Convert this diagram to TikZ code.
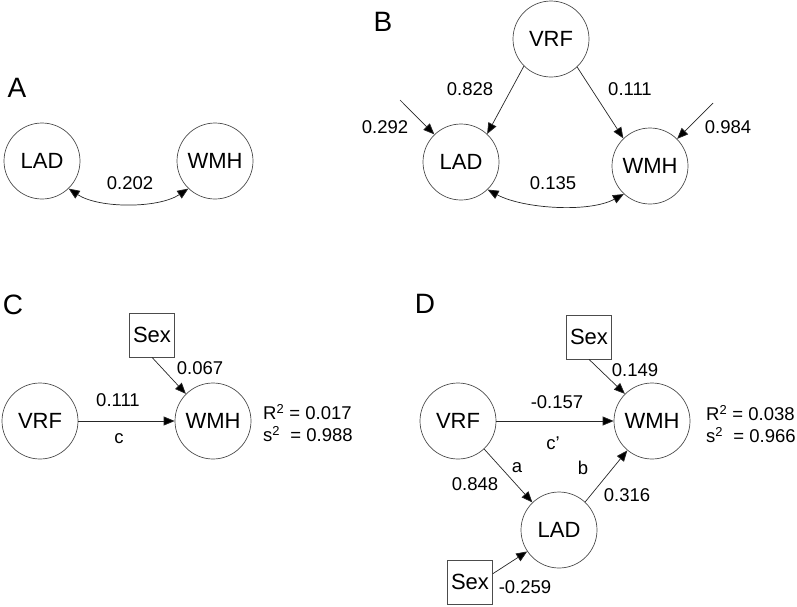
\documentclass[tikz,border=0pt]{standalone}
\usepackage{fontspec}
\setmainfont{Liberation Sans}
\usetikzlibrary{arrows.meta}
\begin{document}
\begin{tikzpicture}[x=1pt,y=-1pt,
  var/.style={circle,draw=black!70,line width=0.7pt,minimum size=76pt,inner sep=0pt,font=\fontsize{22}{24}\selectfont},
  obs/.style={rectangle,draw=black!70,line width=0.7pt,minimum width=45pt,minimum height=44pt,inner sep=0pt,font=\fontsize{22}{24}\selectfont},
  lbl/.style={font=\fontsize{18.5}{20}\selectfont,inner sep=0pt},
  panel/.style={font=\fontsize{28}{30}\selectfont,inner sep=0pt},
  arr/.style={draw=black!85,line width=0.7pt,-{Triangle[length=11pt,width=9pt,fill=black]}},
  darr/.style={draw=black!85,line width=0.7pt,{Triangle[length=11pt,width=9pt,fill=black]}-{Triangle[length=11pt,width=9pt,fill=black]}},
]
\useasboundingbox (0,0) rectangle (797,606);

% ---------- Panel A ----------
\node[panel] (pA) at (17,88) {A};
\node[var] (LADa) at (42,161) {LAD};
\node[var] (WMHa) at (215,161) {WMH};
\draw[darr] (LADa.-46) .. controls +(30,20) and +(-30,20) .. (WMHa.-134);
\node[lbl] (lA) at (130,183) {0.202};

% ---------- Panel B ----------
\node[panel] (pB) at (383,22) {B};
\node[var] (VRFb) at (551,39) {VRF};
\node[var] (LADb) at (461,162) {LAD};
\node[var] (WMHb) at (650,166) {WMH};
\coordinate (eL) at (400,100);
\coordinate (eW) at (713,103);
\draw[arr] (VRFb.-135) -- (LADb.47);
\draw[arr] (VRFb.-47) -- (WMHb.134);
\draw[arr] (eL) -- (LADb.134);
\draw[arr] (eW) -- (WMHb.45);
\draw[darr] (LADb.-46) .. controls +(35,19) and +(-35,19) .. (WMHb.-133);
\node[lbl] (l828) at (470,89) {0.828};
\node[lbl] (l111b) at (630,89) {0.111};
\node[lbl] (l292) at (385,127) {0.292};
\node[lbl] (l984) at (728,127) {0.984};
\node[lbl] (l135) at (553,183) {0.135};

% ---------- Panel C ----------
\node[panel] (pC) at (13,305) {C};
\node[obs] (SexC) at (152,335) {Sex};
\node[var] (VRFc) at (40,421) {VRF};
\node[var] (WMHc) at (213,421) {WMH};
\draw[arr] (VRFc.east) -- (WMHc.west);
\draw[arr] (SexC.south) -- (WMHc.135);
\node[lbl] (l111c) at (118,400) {0.111};
\node[lbl] (lc) at (119,439) {c};
\node[lbl] (l067) at (200,368) {0.067};
\node[lbl,anchor=west] (R2c) at (263,412) {R\textsuperscript{2} = 0.017};
\node[lbl,anchor=west] (s2c) at (263,434) {s\textsuperscript{2}\ \ = 0.988};

% ---------- Panel D ----------
\node[panel] (pD) at (425,304) {D};
\node[obs] (SexD1) at (589,337) {Sex};
\node[var] (VRFd) at (458,421) {VRF};
\node[var] (WMHd) at (652,421) {WMH};
\node[var] (LADd) at (559,530) {LAD};
\node[obs] (SexD2) at (470,582) {Sex};
\draw[arr] (SexD1.south) -- (WMHd.135);
\draw[arr] (VRFd.east) -- (WMHd.west);
\draw[arr] (VRFd.-47) -- (LADd.134);
\draw[arr] (LADd.47) -- (WMHd.-130);
\draw[arr] (SexD2.20) -- (LADd.-146);
\node[lbl] (l149) at (635,370) {0.149};
\node[lbl] (l157) at (557,402) {-0.157};
\node[lbl] (lcp) at (553,443) {c’};
\node[lbl] (la) at (517,468) {a};
\node[lbl] (lb) at (583,468) {b};
\node[lbl] (l848) at (475,484) {0.848};
\node[lbl] (l316) at (627,495) {0.316};
\node[lbl] (l259) at (525,587) {-0.259};
\node[lbl,anchor=west] (R2d) at (706,413) {R\textsuperscript{2} = 0.038};
\node[lbl,anchor=west] (s2d) at (706,435) {s\textsuperscript{2}\ \ = 0.966};
\end{tikzpicture}
\end{document}
